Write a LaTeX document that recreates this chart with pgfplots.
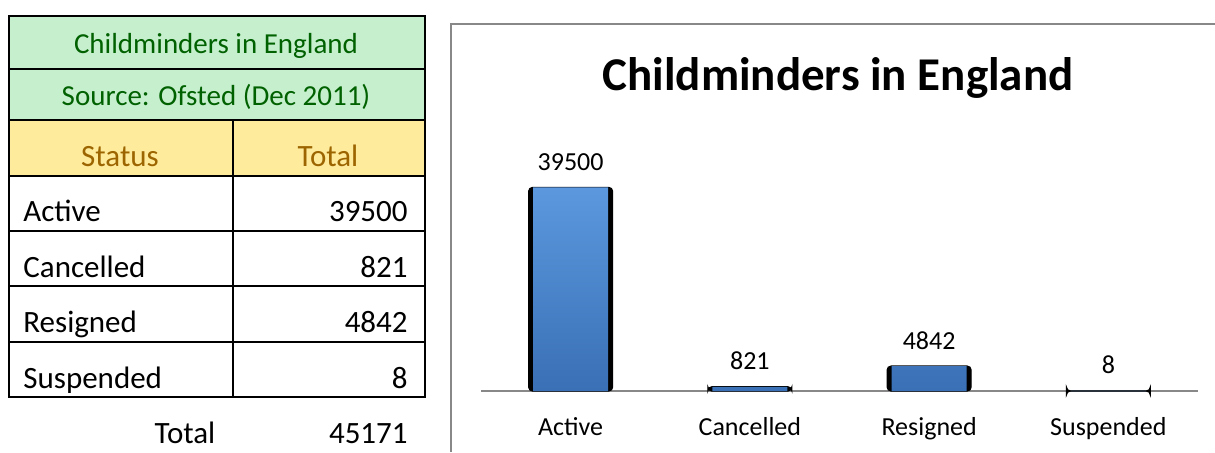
\documentclass[border=0pt]{standalone}
\usepackage{pgfplots}
\pgfplotsset{compat=1.18}
\usepackage{fontspec}
\setmainfont{Carlito}
\definecolor{goodfill}{HTML}{C6EFCE}
\definecolor{goodtext}{HTML}{006100}
\definecolor{neutfill}{HTML}{FFEB9C}
\definecolor{neuttext}{HTML}{9C6500}
\definecolor{barTop}{HTML}{5B98DE}
\definecolor{barBot}{HTML}{3A70B5}
\definecolor{framegrey}{HTML}{888888}
\newcommand\tabfont{\fontsize{15.5pt}{18pt}\selectfont}
\newcommand\grfont{\fontsize{14.5pt}{17pt}\selectfont}
\begin{document}
\begin{tikzpicture}
\path[use as bounding box] (0,0) rectangle (607.5pt,-226pt);
\begin{scope}[x=0.5pt,y=-0.5pt]
  % table
  \fill[goodfill] (8.5,16) rectangle (425,120);
  \fill[neutfill] (8.5,120) rectangle (425,176);
  \draw[line width=1pt] (8.5,16) rectangle (425,397);
  \foreach \yy in {69,120,176,231,286,342} \draw[line width=1pt] (8.5,\yy)--(425,\yy);
  \draw[line width=1pt] (233,120)--(233,397);
  \node[anchor=base,text=goodtext,inner sep=0pt] at (216,53) {\grfont Childminders in England};
  \node[anchor=base,text=goodtext,inner sep=0pt] at (216,105) {\grfont Source: Ofsted (Dec 2011)};
  \node[anchor=base,text=neuttext,inner sep=0pt] at (120,166) {\tabfont Status};
  \node[anchor=base,text=neuttext,inner sep=0pt] at (328,166) {\tabfont Total};
  \node[anchor=base west,inner sep=0pt] at (23,221) {\tabfont Active};
  \node[anchor=base west,inner sep=0pt] at (23,277) {\tabfont Cancelled};
  \node[anchor=base west,inner sep=0pt] at (23,332) {\tabfont Resigned};
  \node[anchor=base west,inner sep=0pt] at (23,388) {\tabfont Suspended};
  \node[anchor=base east,inner sep=0pt] at (408,221) {\tabfont 39500};
  \node[anchor=base east,inner sep=0pt] at (408,277) {\tabfont 821};
  \node[anchor=base east,inner sep=0pt] at (408,332) {\tabfont 4842};
  \node[anchor=base east,inner sep=0pt] at (408,388) {\tabfont 8};
  \node[anchor=base,inner sep=0pt] at (185,443) {\tabfont Total};
  \node[anchor=base east,inner sep=0pt] at (408,443) {\tabfont 45171};
  % chart frame
  \draw[framegrey,line width=0.75pt] (451,452)--(451,24)--(1216,24);
  \node[anchor=base,inner sep=0pt] at (838,90) {\fontsize{23.5pt}{28pt}\selectfont\bfseries Childminders in England};
\end{scope}
\begin{axis}[
  at={(240.5pt,-195.5pt)}, anchor=south west,
  scale only axis, width=358.5pt, height=116pt,
  xmin=-0.5, xmax=3.5, ymin=0, ymax=45000,
  axis y line=none, axis x line*=bottom,
  x axis line style={framegrey, line width=0.75pt, -},
  xtick={0,1,2,3},
  xticklabels={Active,Cancelled,Resigned,Suspended},
  major tick length=0pt,
  xticklabel style={anchor=base, yshift=-22pt, font=\fontsize{13pt}{15pt}\selectfont, inner sep=0pt},
  ytick=\empty,
  clip=false,
  /pgf/number format/.cd, fixed, precision=0, 1000 sep={}, assume math mode=true,
]
\addplot[ybar, bar width=42pt, bar shift=0pt, fill=black, draw=black, line width=0.6pt, rounded corners=2pt]
  coordinates {(0,39500) (1,821) (2,4842) (3,8)};
\addplot[ybar, bar width=37.5pt, bar shift=0pt, draw=none, top color=barTop, bottom color=barBot,
  nodes near coords,
  nodes near coords style={anchor=base, yshift=8.5pt, font=\fontsize{13pt}{15pt}\selectfont, text=black, inner sep=0pt}]
  coordinates {(0,39500) (1,821) (2,4842) (3,8)};
\end{axis}
\end{tikzpicture}
\end{document}
